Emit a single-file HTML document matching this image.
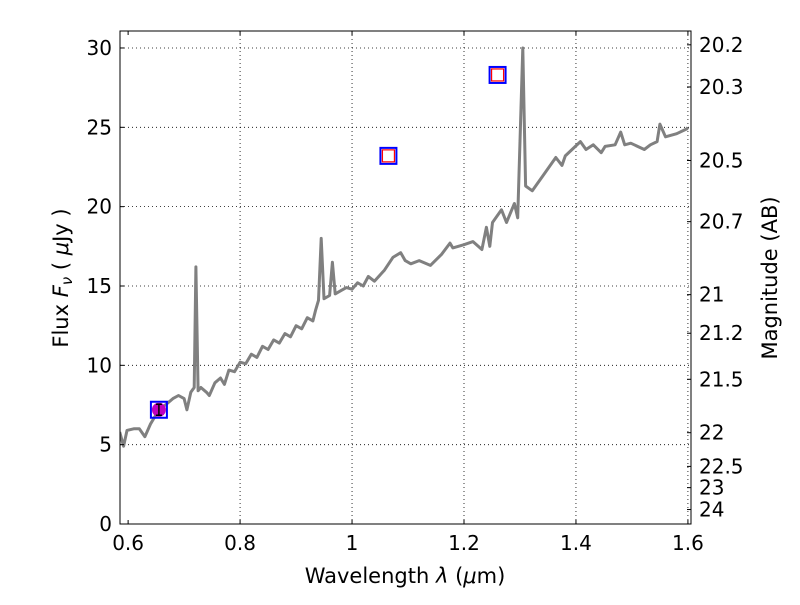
<!DOCTYPE html>
<html><head><meta charset="utf-8"><style>
body{margin:0;background:#fff;}
svg text{font-family:"DejaVu Sans","Liberation Sans",sans-serif;fill:#000;}
</style></head><body>
<svg id="chart" width="800" height="600" xmlns="http://www.w3.org/2000/svg"></svg>
<script>
const specLambda=[0.585,0.592,0.598,0.61,0.62,0.63,0.64,0.655,0.67,0.68,0.69,0.70,0.705,0.712,0.718,0.721,0.725,0.73,0.74,0.745,0.755,0.765,0.772,0.78,0.79,0.8,0.81,0.82,0.83,0.84,0.85,0.86,0.87,0.88,0.89,0.9,0.91,0.92,0.93,0.935,0.94,0.945,0.95,0.96,0.965,0.97,0.98,0.99,1.0,1.01,1.02,1.029,1.04,1.058,1.073,1.087,1.095,1.105,1.12,1.14,1.16,1.175,1.18,1.2,1.216,1.232,1.24,1.246,1.251,1.267,1.276,1.29,1.296,1.305,1.31,1.322,1.33,1.34,1.364,1.375,1.381,1.408,1.418,1.431,1.445,1.452,1.47,1.48,1.487,1.498,1.522,1.533,1.545,1.55,1.56,1.58,1.598,1.6];
const specFlux=[5.8,4.9,5.9,6.0,6.0,5.5,6.3,7.2,7.6,7.9,8.1,7.9,7.2,8.3,8.6,16.2,8.4,8.6,8.3,8.1,8.9,9.2,8.8,9.7,9.6,10.2,10.1,10.7,10.5,11.2,11.0,11.6,11.4,12.0,11.8,12.5,12.3,13.0,12.8,13.5,14.1,18.0,14.2,14.4,16.5,14.5,14.7,14.9,14.8,15.2,15.0,15.6,15.3,16.0,16.8,17.1,16.6,16.4,16.6,16.3,17.0,17.7,17.4,17.6,17.8,17.3,18.7,17.5,19.0,19.8,19.0,20.2,19.3,30.0,21.3,21.0,21.4,21.9,23.1,22.6,23.2,24.1,23.6,23.9,23.4,23.8,23.9,24.7,23.9,24.0,23.6,23.9,24.1,25.2,24.4,24.6,24.9,25.0];
const photLambda=[0.655,1.065,1.26];
const photFlux=[7.2,23.2,28.3];
const modelFlux=[null,23.2,28.3];
const photErr=[0.35,0,0];
const xTicks=[0.8,1,1.2,1.4,1.6];
const xTickLabels=["0.8","1","1.2","1.4","1.6"];
const yTicks=[0,5,10,15,20,25,30];
const magTicks=[20.2,20.3,20.5,20.7,21,21.2,21.5,22,22.5,23,24];

const svg=document.getElementById('chart');
const NS="http://www.w3.org/2000/svg";
const L=120,R=691,T=31,B=524,XMIN=0.5855,XMAX=1.6055,YMIN=0,YMAX=31.07;
const xs=v=>L+(v-XMIN)/(XMAX-XMIN)*(R-L);
const ys=v=>B-(v-YMIN)/(YMAX-YMIN)*(B-T);
function mk(tag,attrs,parent){const e=document.createElementNS(NS,tag);for(const k in attrs)e.setAttribute(k,attrs[k]);(parent||svg).appendChild(e);return e;}

const grid=mk('g',{});


xTicks.forEach(t=>{mk('line',{x1:xs(t),x2:xs(t),y1:T,y2:B,stroke:'#000','stroke-width':0.8,'stroke-dasharray':'1,3'},grid);});
yTicks.forEach(t=>{mk('line',{x1:L,x2:R,y1:ys(t),y2:ys(t),stroke:'#000','stroke-width':0.8,'stroke-dasharray':'1,3'},grid);});

const cp=mk('clipPath',{id:'cp'});mk('rect',{x:L,y:T,width:R-L,height:B-T},cp);
const pts=specLambda.map((l,i)=>xs(l).toFixed(1)+','+ys(specFlux[i]).toFixed(1)).join(' ');
const line=mk('polyline',{points:pts,fill:'none',stroke:'#808080','stroke-width':3,'stroke-linejoin':'round','clip-path':'url(#cp)'});



photLambda.forEach((l,i)=>{
  const cx=xs(l),cy=ys(photFlux[i]);
  const b=mk('rect',{x:cx-8,y:cy-8,width:16,height:16,fill:'none',stroke:'#0000ff','stroke-width':2});
  
  
  if(modelFlux[i]!==null){
    const r=mk('rect',{x:cx-6,y:ys(modelFlux[i])-6,width:12,height:12,fill:'none',stroke:'#ff0000','stroke-width':1.2});
    
    
  } else {
    const c=mk('circle',{cx:cx,cy:cy,r:7,fill:'#bf00bf'});
    
    
    const e0=ys(photFlux[i]-photErr[i]),e1=ys(photFlux[i]+photErr[i]);
    const eb=mk('path',{d:`M${cx},${e0}V${e1}M${cx-3},${e0}H${cx+3}M${cx-3},${e1}H${cx+3}`,stroke:'#000','stroke-width':1.5,fill:'none'});
    
    
  }
});

const frame=mk('rect',{x:L,y:T,width:R-L,height:B-T,fill:'none',stroke:'#000','stroke-width':1});



xTicks.concat([0.6]).forEach(t=>{mk('line',{x1:xs(t),x2:xs(t),y1:B,y2:B-4,stroke:'#000'});mk('line',{x1:xs(t),x2:xs(t),y1:T,y2:T+4,stroke:'#000'});});
const xl=[0.6].concat(xTicks),xll=["0.6"].concat(xTickLabels);
xl.forEach((t,i)=>{const tx=mk('text',{x:xs(t),y:B+26,'font-size':20,'text-anchor':'middle'});tx.textContent=xll[i];
  });
yTicks.forEach(t=>{mk('line',{x1:L,x2:L+4,y1:ys(t),y2:ys(t),stroke:'#000'});
  const tx=mk('text',{x:L-8,y:ys(t)+7,'font-size':20,'text-anchor':'end'});tx.textContent=t;
  });
magTicks.forEach(m=>{const f=Math.pow(10,(23.9-m)/2.5);const y=ys(f);
  mk('line',{x1:R,x2:R-4,y1:y,y2:y,stroke:'#000'});
  const tx=mk('text',{x:R+8,y:y+7,'font-size':20});tx.textContent=m;
  });

const xt=mk('text',{x:405,y:583,'font-size':21,'text-anchor':'middle'});
xt.innerHTML='Wavelength  <tspan font-style="italic">λ</tspan> (<tspan font-style="italic">μ</tspan>m)';

const yt=mk('text',{x:0,y:0,'font-size':21,'text-anchor':'middle',transform:'translate(68,278) rotate(-90)'});
yt.innerHTML='Flux  <tspan font-style="italic">F</tspan><tspan font-style="italic" font-size="15" dy="4">ν</tspan><tspan dy="-4">  (  </tspan><tspan font-style="italic">μ</tspan>Jy )';

const yt2=mk('text',{x:0,y:0,'font-size':21,'text-anchor':'middle',transform:'translate(777,278) rotate(-90)'});
yt2.textContent='Magnitude (AB)';

</script>
</body></html>
